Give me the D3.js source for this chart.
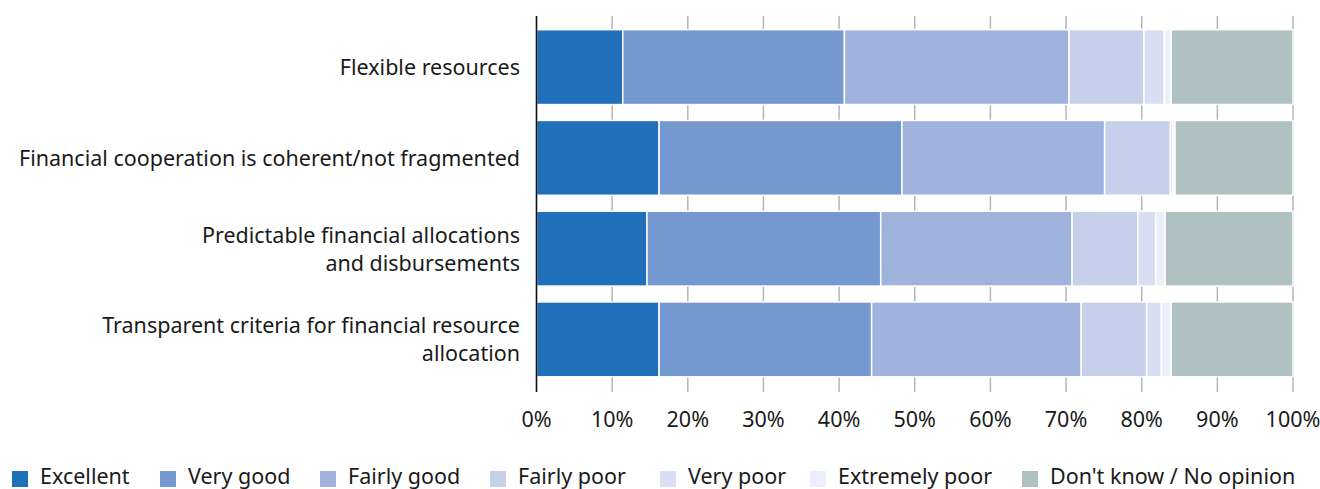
<!DOCTYPE html>
<html><head><meta charset="utf-8">
<script src="https://cdn.jsdelivr.net/npm/d3@7"></script>
<style>body{margin:0;background:#fff}svg{display:block}text{font-family:"Noto Sans",sans-serif;fill:#1a1a1a}</style>
</head><body><svg id="c" width="1320" height="489"></svg>
<script>
const categories = [
  ["Flexible resources"],
  ["Financial cooperation is coherent/not fragmented"],
  ["Predictable financial allocations", "and disbursements"],
  ["Transparent criteria for financial resource", "allocation"]
];
const seriesNames = ["Excellent","Very good","Fairly good","Fairly poor","Very poor","Extremely poor","Don't know / No opinion"];
const excellent   = [11.4, 16.2, 14.6, 16.2];
const veryGood    = [29.3, 32.1, 30.9, 28.1];
const fairlyGood  = [29.7, 26.8, 25.3, 27.7];
const fairlyPoor  = [9.9, 8.7, 8.7, 8.65];
const veryPoor    = [2.7, 0.3, 2.35, 1.95];
const extremelyPoor = [0.9, 0.3, 1.25, 1.3];
const dontKnow    = [16.1, 15.6, 16.9, 16.1];
const tickValues = [0,10,20,30,40,50,60,70,80,90,100];
const colors = ["#1f70b8","#7498cf","#a0b3dc","#c6d0eb","#d8dff2","#ebeff9","#afc2c1"];

const seriesVals = [excellent, veryGood, fairlyGood, fairlyPoor, veryPoor, extremelyPoor, dontKnow];
const svg = d3.select("#c");
const x = d3.scaleLinear().domain([0,100]).range([536.5,1293]);
const y = d3.scaleBand().domain(d3.range(categories.length)).range([21.5,385]).paddingInner(0.175).paddingOuter(0.09);
const fs = 21.5;

// gridlines
svg.append("g").selectAll("line").data(tickValues).join("line")
  .attr("x1",d=>x(d)).attr("x2",d=>x(d)).attr("y1",16).attr("y2",392)
  .attr("stroke","#b5b5b5").attr("stroke-width",1.5);

// stacked data
const rows = categories.map((c,i)=>{const o={idx:i}; seriesNames.forEach((s,j)=>o[s]=seriesVals[j][i]); return o;});
const stack = d3.stack().keys(seriesNames)(rows);
svg.append("g").selectAll("g").data(stack).join("g").attr("fill",(d,i)=>colors[i])
  .selectAll("rect").data(d=>d).join("rect")
  .attr("x",d=>x(d[0])).attr("width",d=>Math.max(0,x(d[1])-x(d[0])))
  .attr("y",(d,i)=>y(i)).attr("height",y.bandwidth())
  .attr("stroke","#fff").attr("stroke-width",1.5);

// zero axis
svg.append("line").attr("x1",x(0)).attr("x2",x(0)).attr("y1",16).attr("y2",392).attr("stroke","#111").attr("stroke-width",1.5);

// category labels
const lab = svg.append("g").selectAll("text").data(categories).join("text")
  .attr("text-anchor","end").attr("font-size",fs)
  .attr("y",(d,i)=>y(i)+y.bandwidth()/2 - (d.length-1)*14 + 8);
lab.selectAll("tspan").data(d=>d).join("tspan").attr("x",520).attr("dy",(d,i)=>i?28:0).text(d=>d);

// x tick labels
svg.append("g").selectAll("text").data(tickValues).join("text")
  .attr("x",d=>x(d)).attr("y",427).attr("text-anchor","middle").attr("font-size",fs).text(d=>d+"%");

// legend
const legX = [12,160,320,490,660,810,1022];
const lg = svg.append("g").selectAll("g").data(seriesNames).join("g").attr("transform",(d,i)=>`translate(${legX[i]},0)`);
lg.append("rect").attr("x",0).attr("y",471).attr("width",16).attr("height",16).attr("fill",(d,i)=>colors[i]);
lg.append("text").attr("x",28).attr("y",484).attr("font-size",fs).text(d=>d);
</script></body></html>
